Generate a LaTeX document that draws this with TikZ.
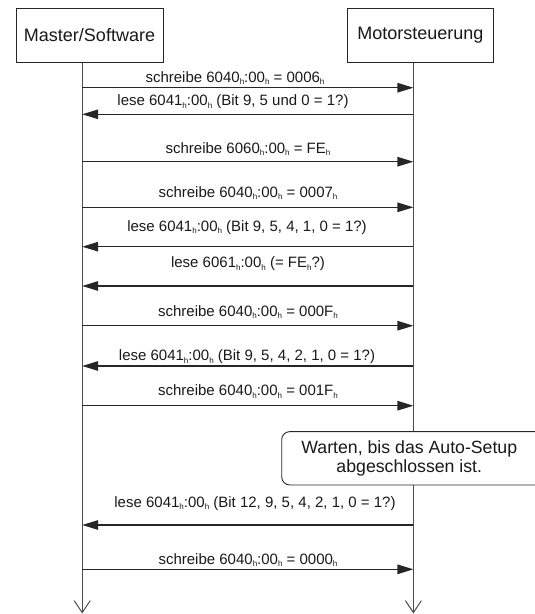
\documentclass[tikz,border=0pt]{standalone}
\usepackage{fontspec}
\setmainfont{Liberation Sans}
\usetikzlibrary{arrows.meta}
\newcommand{\hs}{\raisebox{-2.5pt}{\fontsize{8}{8}\selectfont h}}
\tikzset{
  hdr/.style={draw=black!85, line width=0.9pt, fill=white, inner sep=0pt,
    font=\fontsize{18}{21}\selectfont, text=black!90},
  lifeline/.style={draw=black!70, line width=1.1pt, -{Straight Barb[length=12pt,width=16pt,line width=1pt]}},
  msg/.style={draw=black!85, line width=1.2pt, -{Triangle[length=16pt,width=9.5pt]}},
  msgtxt/.style={inner sep=0pt, anchor=base, font=\fontsize{15}{18}\selectfont, text=black!90},
  notebox/.style={draw=black!85, line width=0.9pt, fill=white, rounded corners=8pt, inner sep=0pt},
  notetxt/.style={inner sep=0pt, align=center, font=\fontsize{17.7}{19}\selectfont, text=black!90}
}
\begin{document}
\begin{tikzpicture}[x=1pt,y=-1pt]
\useasboundingbox (0,0) rectangle (535,614);
% lifelines
\coordinate (ml0) at (82.2,62);
\coordinate (ml1) at (82.2,613.5);
\coordinate (rl0) at (413.4,62);
\coordinate (rl1) at (413.4,613.5);
\draw[lifeline] (ml0) -- (ml1);
\draw[lifeline] (rl0) -- (rl1);
% headers
\node[hdr, minimum width=147pt, minimum height=54pt] (master) at (89.5,35) {Master/Software};
\node[hdr, minimum width=146pt, minimum height=54pt] (motor) at (420.3,35) {Motorsteuerung};
% message anchors
\foreach \i/\y in {1/87.7,2/114.3,3/161.7,4/207.3,5/246.7,6/286,7/325.7,8/366,9/405.7,10/525,11/569.3}{
  \coordinate (L\i) at (82.2,\y);
  \coordinate (R\i) at (413.4,\y);
}
% messages
\node[msgtxt] (t1) at (235,82.3) {schreibe 6040\hs:00\hs{} = 0006\hs};
\draw[msg] (L1) -- (R1);
\node[msgtxt] (t2) at (233,105.7) {lese 6041\hs:00\hs{} (Bit 9, 5 und 0 = 1?)};
\draw[msg] (R2) -- (L2);
\node[msgtxt] (t3) at (248,153.3) {schreibe 6060\hs:00\hs{} = FE\hs};
\draw[msg] (L3) -- (R3);
\node[msgtxt] (t4) at (248,197.3) {schreibe 6040\hs:00\hs{} = 0007\hs};
\draw[msg] (L4) -- (R4);
\node[msgtxt] (t5) at (247,231) {lese 6041\hs:00\hs{} (Bit 9, 5, 4, 1, 0 = 1?)};
\draw[msg] (R5) -- (L5);
\node[msgtxt] (t6) at (248,267.7) {lese 6061\hs:00\hs{} (= FE\hs?)};
\draw[msg] (R6) -- (L6);
\node[msgtxt] (t7) at (248,316) {schreibe 6040\hs:00\hs{} = 000F\hs};
\draw[msg] (L7) -- (R7);
\node[msgtxt] (t8) at (247,360.7) {lese 6041\hs:00\hs{} (Bit 9, 5, 4, 2, 1, 0 = 1?)};
\draw[msg] (R8) -- (L8);
\node[msgtxt] (t9) at (248,395.7) {schreibe 6040\hs:00\hs{} = 001F\hs};
\draw[msg] (L9) -- (R9);
\node[msgtxt] (t10) at (255,507.3) {lese 6041\hs:00\hs{} (Bit 12, 9, 5, 4, 2, 1, 0 = 1?)};
\draw[msg] (R10) -- (L10);
\node[msgtxt] (t11) at (248,564) {schreibe 6040\hs:00\hs{} = 0000\hs};
\draw[msg] (L11) -- (R11);
% note (box runs past the right edge of the picture)
\node[notebox, minimum width=268pt, minimum height=53.3pt] (note) at (415.7,458.3) {};
\node[notetxt] (notetext) at (409.3,458.3) {Warten, bis das Auto-Setup\\abgeschlossen ist.};
\end{tikzpicture}
\end{document}
